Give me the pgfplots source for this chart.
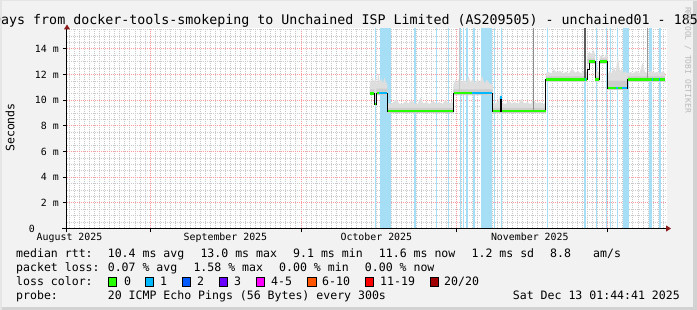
\documentclass[border=0pt]{standalone}
\usepackage{fontspec}
\setmainfont{DejaVu Sans Mono}
\usepackage{pgfplots}
\pgfplotsset{compat=1.18}
\usetikzlibrary{arrows.meta}
\definecolor{bgc}{HTML}{F2F2F2}
\definecolor{lossbg}{HTML}{A6DEF6}
\definecolor{smokeA}{HTML}{DEDEDE}
\definecolor{smokeB}{HTML}{CDCDCD}
\definecolor{lzero}{HTML}{26FF00}
\definecolor{lone}{HTML}{00B8FF}
\definecolor{ltwo}{HTML}{0059FF}
\definecolor{lthree}{HTML}{6A00FF}
\definecolor{lfour}{HTML}{FF00FF}
\definecolor{lsix}{HTML}{FF5500}
\definecolor{leleven}{HTML}{FF0000}
\definecolor{ltwenty}{HTML}{A10000}
\definecolor{arrowred}{HTML}{8B1A1A}
\newcommand\lf{\fontsize{11.55}{13}\selectfont}
\newcommand\tf{\fontsize{13.3}{15}\selectfont}
\newcommand\af{\fontsize{9.9}{11}\selectfont}
\begin{document}
\begin{tikzpicture}
\path[use as bounding box] (0pt,0pt) rectangle (697pt,310pt);
\fill[bgc] (0pt,0pt) rectangle (697pt,310pt);
\fill[gray!35] (693pt,0pt) rectangle (697pt,310pt);
\fill[gray!35] (0pt,0pt) rectangle (697pt,3pt);
\fill[gray!20] (0pt,0pt) rectangle (1.5pt,310pt);
\fill[gray!20] (0pt,308.5pt) rectangle (697pt,310pt);
\begin{axis}[
  at={(67pt,81.5pt)}, anchor=south west,
  width=600pt, height=200pt, scale only axis,
  xmin=-16.5, xmax=102.78, ymin=0, ymax=15.59,
  axis background/.style={fill=white},
  axis lines*=left,
  axis line style={line width=1pt, black},
  x axis line style={shorten <=-5pt, shorten >=-4pt, -{Triangle[length=5pt,width=6pt,color=arrowred]}},
  y axis line style={shorten <=-4pt, shorten >=-4pt, -{Triangle[length=5pt,width=6pt,color=arrowred]}},
  tick align=outside,
  major tick length=4pt, minor tick length=0pt,
  tick style={black, line width=0.8pt},
  xtick={0,30,61,91}, xticklabels={,,,},
  minor xtick={-16,-15,...,102},
  extra x ticks={-16,15,45,75.5},
  extra x tick labels={August 2025,September 2025,October 2025,November 2025},
  extra x tick style={grid=none, major tick length=0pt},
  ytick={0,2,...,14},
  yticklabels={{0\phantom{0000}},{2 m},{4 m},{6 m},{8 m},{10 m},{12 m},{14 m}},
  minor ytick={0.5,1,...,15.5},
  grid=both,
  minor grid style={draw=gray!42, dash pattern=on 1pt off 1pt, line width=0.8pt},
  major grid style={draw=red!40, dash pattern=on 1pt off 1pt, line width=0.8pt},
  ticklabel style={font=\af},
  xticklabel style={inner sep=0pt, anchor=north, yshift=-4pt},
  yticklabel style={inner sep=0pt, anchor=east, xshift=-4pt},
  clip=true,
]
% packet-loss background lines
\addplot[ycomb, color=lossbg, line width=1.2pt] coordinates {(44.8,15.59) (52.7,15.59) (56.9,15.59) (59.4,15.59) (61.8,15.59) (62.4,15.59) (63.0,15.59) (68.5,15.59) (69.8,15.59) (79.0,15.59) (88.7,15.59) (90.7,15.59) (91.5,15.59) (93.0,15.59) (99.3,15.59) (99.6,15.59) (101.4,15.59)};
\addplot[ycomb, color=lossbg, line width=2pt] coordinates {(64.5,15.59) (86.5,15.59)};
\addplot[ycomb, color=lossbg, line width=11pt] coordinates {(46.74,15.59) (66.9,15.59)};
\addplot[ycomb, color=lossbg, line width=6pt] coordinates {(94.6,15.59)};
% smoke (outer)
\addplot[fill=smokeA, draw=none] coordinates {
(43.7,11.2) (43.9,11.6) (44.1,11.3) (44.3,11.9) (44.5,11.4) (44.8,11.7) (45.1,11.3) (45.4,12.1) (45.7,11.4) (46.0,11.7) (46.3,11.3) (46.6,11.8) (46.9,11.4) (47.2,11.2)
(47.2,9.8) (47.8,9.7) (48.4,9.85) (49.0,10.1) (49.5,9.75) (50.1,9.7) (50.8,9.9) (51.4,9.75) (52.0,10.0) (52.6,9.75) (53.2,9.7) (53.8,10.2) (54.3,9.75) (55.0,9.85) (55.6,9.7) (56.2,9.95) (56.9,9.75) (57.5,9.85) (58.1,9.7) (58.8,10.0) (59.4,9.75) (60.0,9.85) (60.3,9.8)
(60.3,11.2) (60.7,11.6) (61.1,11.3) (61.5,11.8) (61.9,11.4) (62.4,11.6) (62.8,11.3) (63.3,11.9) (63.7,11.4) (64.2,11.7) (64.6,11.3) (65.1,11.6) (65.6,11.4) (66.0,11.9) (66.5,11.3) (67.0,11.6) (67.5,11.3) (68.1,11.2)
(68.1,9.8) (68.7,9.75) (69.3,9.95) (69.6,10.5) (70.0,9.8) (70.7,9.7) (71.3,9.95) (71.9,9.75) (72.5,9.85) (73.2,9.7) (73.8,10.1) (74.4,9.75) (75.0,9.85) (75.6,9.7) (76.3,9.95) (76.9,9.75) (77.5,9.85) (78.1,9.7) (78.7,9.8)
(78.7,12.1) (79.2,12.2) (79.8,12.1) (80.3,12.4) (80.9,12.15) (81.5,12.3) (82.1,12.1) (82.7,12.2) (83.3,12.1) (83.9,12.45) (84.5,12.15) (85.1,12.25) (85.7,12.1) (86.3,12.3) (86.9,12.2)
(86.9,13.4) (87.3,13.8) (87.8,13.6) (88.2,13.9) (88.5,13.5)
(88.5,12.1) (88.9,12.3) (89.4,12.1)
(89.4,13.4) (89.8,13.5) (90.3,13.3) (90.7,13.6) (91.0,13.4)
(91.0,12.0) (91.4,12.3) (91.8,12.1) (92.2,12.6) (92.6,12.2) (93.0,13.5) (93.4,12.3) (93.8,12.4) (94.2,12.1) (94.6,12.3) (94.9,12.0)
(94.9,12.1) (95.5,12.2) (96.1,12.1) (96.7,12.3) (97.3,12.1) (97.9,12.9) (98.4,12.2) (99.0,12.1) (99.6,12.3) (100.2,12.15) (100.8,12.2) (101.4,12.1) (102.0,12.25) (102.4,12.1)
(102.4,11.45) (94.9,11.45) (94.9,10.8) (91.0,10.8) (91.0,12.85) (89.4,12.85) (89.4,11.45) (88.5,11.45) (88.5,12.85) (86.9,12.85) (86.9,11.45) (78.7,11.45) (78.7,9.0) (68.1,9.0) (68.1,10.4) (60.3,10.4) (60.3,9.0) (47.2,9.0) (47.2,10.4) (43.7,10.4)};
% smoke (inner, denser)
\addplot[fill=smokeB, draw=none] coordinates {
(43.7,10.85) (44.6,10.85) (44.6,10.0) (45.0,10.0) (45.0,10.9) (47.2,10.9) (47.2,9.4) (60.3,9.4) (60.3,10.85) (68.1,10.85) (68.1,9.4) (78.7,9.4) (78.7,11.85) (86.9,11.85) (86.9,13.25) (88.5,13.25) (88.5,11.85) (89.4,11.85) (89.4,13.25) (91.0,13.25) (91.0,11.5) (94.9,11.5) (94.9,11.85) (102.4,11.85)
(102.4,11.45) (94.9,11.45) (94.9,10.8) (91.0,10.8) (91.0,12.85) (89.4,12.85) (89.4,11.45) (88.5,11.45) (88.5,12.85) (86.9,12.85) (86.9,11.45) (78.7,11.45) (78.7,9.0) (68.1,9.0) (68.1,10.4) (60.3,10.4) (60.3,9.0) (47.2,9.0) (47.2,10.4) (43.7,10.4)};
% max-ping spikes
\addplot[color=gray!45, line width=1pt] coordinates {(61.6,10.55) (61.6,15.59)};
\addplot[color=gray!90, line width=1pt] coordinates {(76.3,9.15) (76.3,15.59)};
\addplot[color=black!65, line width=2pt] coordinates {(86.5,11.6) (86.5,15.59)};
\addplot[color=gray!80, line width=1pt] coordinates {(99.0,11.6) (99.0,15.59)};
% median rtt
\addplot[black, line width=1.2pt] coordinates {(43.7,10.5) (44.6,10.5) (44.6,9.7) (45.0,9.7) (45.0,10.55) (47.2,10.55) (47.2,9.15) (60.3,9.15) (60.3,10.55) (68.1,10.55) (68.1,9.15) (69.65,9.15) (69.65,10.2) (69.85,10.2) (69.85,9.15) (78.7,9.15) (78.7,11.6) (86.9,11.6) (86.9,12.4) (87.3,12.4) (87.3,13.0) (88.5,13.0) (88.5,11.6) (89.4,11.6) (89.4,13.0) (91.0,13.0) (91.0,10.95) (94.9,10.95) (94.9,11.6) (102.4,11.6)};
\addplot[lzero, line width=2.6pt, unbounded coords=jump] coordinates {(43.7,10.5) (44.55,10.5) (44.6,nan) (44.65,9.7) (44.95,9.7) (45,nan) (45.05,10.55) (45.6,10.55) (45.6,nan) (47.25,9.15) (60.25,9.15) (60.3,nan) (60.35,10.55) (64.0,10.55) (64,nan) (68.15,9.15) (69.6,9.15) (69.6,nan) (69.9,9.15) (78.65,9.15) (78.7,nan) (78.75,11.6) (86.4,11.6) (86.4,nan) (86.7,11.6) (86.85,11.6) (86.9,nan) (87.35,13.0) (88.45,13.0) (88.5,nan) (88.55,11.6) (89.35,11.6) (89.4,nan) (89.45,13.0) (90.95,13.0) (91,nan) (91.05,10.95) (92.6,10.95) (92.6,nan) (93.0,10.95) (93.8,10.95) (93.8,nan) (94.95,11.6) (99.7,11.6) (99.7,nan) (100.0,11.6) (101.1,11.6) (101.1,nan) (101.4,11.6) (102.4,11.6)};
\addplot[lone, line width=2.6pt, unbounded coords=jump] coordinates {(45.6,10.55) (47.15,10.55) (47,nan) (64.0,10.55) (68.05,10.55) (68,nan) (69.6,10.2) (69.9,10.2) (70,nan) (86.4,11.6) (86.7,11.6) (87,nan) (92.6,10.95) (93.0,10.95) (93,nan) (93.8,10.95) (94.85,10.95) (95,nan) (99.7,11.6) (100.0,11.6) (100,nan) (101.1,11.6) (101.4,11.6)};
\end{axis}
% title and side texts
\node[overlay, anchor=base west, inner sep=0pt, font=\tf] at (-7pt,285pt) {Days from docker-tools-smokeping to Unchained ISP Limited (AS209505) - unchained01 - 185};
\node[rotate=-90, inner sep=0pt, font=\fontsize{8}{9}\selectfont, text=gray!55] at (688pt,250pt) {RRDTOOL / TOBI OETIKER};
\node[rotate=90, inner sep=0pt, font=\lf] at (10pt,182.5pt) {Seconds};
% legend
\begin{scope}[every node/.style={anchor=base west, inner sep=0pt, font=\lf}]
\node at (16pt,52pt) {median rtt:};
\node at (107.6pt,52pt) {10.4 ms avg};
\node at (200.3pt,52pt) {13.0 ms max};
\node at (293pt,52pt) {9.1 ms min};
\node at (378.7pt,52pt) {11.6 ms now};
\node at (471.4pt,52pt) {1.2 ms sd};
\node at (550pt,52pt) {8.8};
\node at (593pt,52pt) {am/s};
\node at (16pt,38pt) {packet loss:};
\node at (107.6pt,38pt) {0.07 \% avg};
\node at (193.3pt,38pt) {1.58 \% max};
\node at (279pt,38pt) {0.00 \% min};
\node at (364.7pt,38pt) {0.00 \% now};
\node at (16pt,24pt) {loss color:};
\node at (124pt,24pt) {0};
\node at (160pt,24pt) {1};
\node at (197pt,24pt) {2};
\node at (234pt,24pt) {3};
\node at (271pt,24pt) {4-5};
\node at (322pt,24pt) {6-10};
\node at (380pt,24pt) {11-19};
\node at (444pt,24pt) {20/20};
\node at (16pt,10pt) {probe:};
\node at (107.6pt,10pt) {20 ICMP Echo Pings (56 Bytes) every 300s};
\end{scope}
\node[anchor=base east, inner sep=0pt, font=\lf] at (680pt,10pt) {Sat Dec 13 01:44:41 2025};
\foreach \bx/\bc in {108/lzero,145/lone,182/ltwo,219/lthree,256/lfour,307.5/lsix,365/leleven,430/ltwenty}
  \filldraw[fill=\bc, draw=black, line width=0.8pt] (\bx pt,23.75pt) rectangle ++(8.5pt,8.5pt);
\end{tikzpicture}
\end{document}
